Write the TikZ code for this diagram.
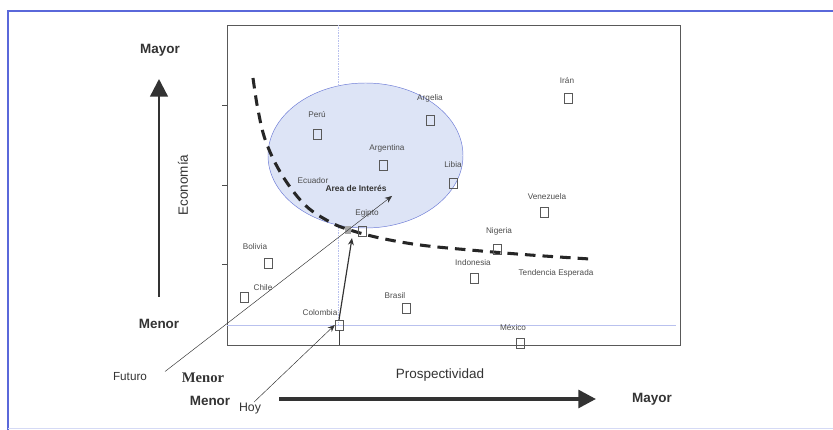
\documentclass[tikz,border=0pt]{standalone}
\usepackage{fontspec}
\setmainfont{Liberation Sans}
\newfontfamily\timesbf{Liberation Serif}
\usepackage{xcolor}
\usetikzlibrary{arrows.meta, positioning}
\definecolor{framebl}{HTML}{5A68DA}
\definecolor{zonefill}{HTML}{DDE4F6}
\definecolor{zoneline}{HTML}{6C7AD6}
\definecolor{guide}{HTML}{B9C1EE}
\definecolor{ink}{HTML}{333333}

\begin{document}
\begin{tikzpicture}[
            x=0.03cm, y=-0.03cm,
            every node/.style={inner sep=1pt},
            marker/.style={draw=black!65, minimum width=0.24cm, minimum height=0.3cm, inner sep=0pt},
            country/.style={font=\fontsize{7}{8}\selectfont, text=black!70},
            axislabel/.style={font=\fontsize{11.5}{13}\selectfont\bfseries, text=ink},
            axisarrow/.style={draw=ink, -{Triangle[length=15pt, width=15pt]}},
            thinarrow/.style={draw=ink, -{Stealth[length=6pt, width=5pt]}},
            trend/.style={draw=black!85, line width=2.6pt, dash pattern=on 9pt off 6pt},
        ]
        \useasboundingbox (0,0) rectangle (833,430);
        \draw[framebl, line width=2.5pt] (833,11) -- (8,11) -- (8,430);
        \draw[guide!60] (8,428) -- (833,428);
        % plot area
        \draw[black!65] (227,25) rectangle (680,345);
        \foreach \t in {105,185,264} \draw[black!70] (227,\t) -- (222,\t);
        \draw[guide, densely dotted] (338,25) -- (338,325);
        \draw[guide] (227,325) -- (676,325);
        \fill[zonefill] (365.5,155.5) ellipse [x radius=2.925cm, y radius=2.175cm];
        \draw[zoneline] (365.5,155.5) ellipse [x radius=2.925cm, y radius=2.175cm];
        \draw[trend] plot[smooth, tension=0.6] coordinates {(253,78) (258,110) (266,142) (282,175) (305,205) (330,222) (350,230) (380,238) (420,245) (470,250) (530,255) (590,259)};
        % countries
        \foreach \n/\mx/\my/\lx/\ly/\txt in {peru/317/134/317/115/Perú, argentina/383/165/387/148/Argentina,
            argelia/430/120/430/98/Argelia, libia/453/183/453/165/Libia, iran/568/98/567/81/Irán,
            venezuela/544/212/547/197/Venezuela, egipto/362/231/367/213/Egipto, bolivia/268/263/255/247/Bolivia,
            chile/244/297/263/288/Chile, brasil/406/308/395/296/Brasil, indonesia/474/278/473/263/Indonesia,
            nigeria/497/249/499/231/Nigeria, mexico/520/343/513/328/México, colombia/339/325/320/313/Colombia}{
            \node[marker] (\n) at (\mx,\my) {};
            \node[country] (\n-l) at (\lx,\ly) {\txt};
        }
        \node[country] (ecuador-l) at (313,181) {Ecuador};
        \node[font=\fontsize{7.2}{8}\selectfont\bfseries, text=ink] (zone-l) at (356,188) {Area de Interés};
        \node[country] (trend-l) at (556,273) {Tendencia Esperada};
        \node[fill=black!35, minimum width=0.2cm, minimum height=0.22cm, inner sep=0pt] (meet-mark) at (348,230) {};
        \draw[black!75] (colombia.south) -- (339,345);
        % axes
        \node[axislabel] (mayor-l) at (160,50) {Mayor};
        \node[axislabel] (menor-l) at (159,324) {Menor};
        \node[font=\fontsize{11.5}{13}\selectfont, text=ink, rotate=90] (econ) at (183,185) {Economía};
        \coordinate (ey0) at (159,297);
        \coordinate (ey1) at (159,79);
        \draw[axisarrow, line width=2pt] (ey0) -- (ey1);
        \node[font=\fontsize{11.5}{13}\selectfont, text=ink] (prosp) at (440,375) {Prospectividad};
        \node[axislabel] (menor-b) at (210,401) {Menor};
        \node[axislabel] (mayor-b) at (652,399) {Mayor};
        \node[font=\timesbf\fontsize{12.5}{14}\selectfont\bfseries, text=ink] (menor-t) at (203,378) {Menor};
        \coordinate (ex0) at (279,399);
        \coordinate (ex1) at (596,399);
        \draw[axisarrow, line width=3.2pt] (ex0) -- (ex1);
        % time arrows
        \node[font=\fontsize{10}{12}\selectfont, text=ink] (futuro) at (130,377) {Futuro};
        \node[font=\fontsize{10.5}{12}\selectfont, text=ink] (hoy) at (250,409) {Hoy};
        \coordinate (aim) at (392,196);
        \coordinate (meet) at (352,238);
        \draw[thinarrow] ([xshift=0.5cm]futuro.north east) -- (aim);
        \draw[thinarrow] (hoy.60) -- (colombia.west);
        \draw[thinarrow, line width=1pt] (colombia.north) -- (meet);
\end{tikzpicture}
\end{document}
